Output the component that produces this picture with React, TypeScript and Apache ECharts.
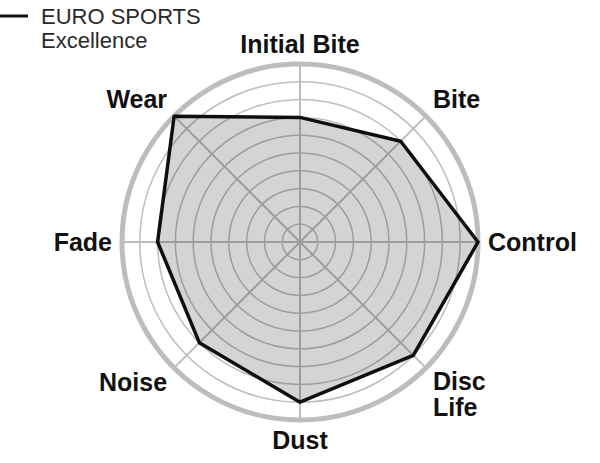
import React, { useEffect, useRef } from 'react';
import * as echarts from 'echarts';

// Indicators listed counter-clockwise from the top (ECharts radar order)
const indicatorNames = ['Initial Bite', 'Wear', 'Fade', 'Noise', 'Dust', 'Disc\nLife', 'Control', 'Bite'];
const seriesName = 'EURO SPORTS\nExcellence';
const seriesValues = [7, 10, 8, 8, 9, 9, 10, 8];
const maxValue = 10;
const ringCount = 10;

const nameFont = {
  color: '#111111',
  fontFamily: 'Liberation Sans',
  fontWeight: 'bold' as const,
  fontSize: 25,
  lineHeight: 25,
};

export default function App() {
  const ref = useRef<HTMLDivElement>(null);
  useEffect(() => {
    if (!ref.current) return;
    const chart = echarts.init(ref.current, undefined, { renderer: 'svg' });
    const indicator = indicatorNames.map((n) => ({ name: n, max: maxValue, min: 0 }));
    const center = [300, 242];
    const radius = 178;
    chart.setOption({
      animation: false,
      backgroundColor: '#ffffff',
      legend: {
        left: 0,
        top: -20,
        padding: 0,
        selectedMode: false,
        itemWidth: 28,
        itemHeight: 3,
        icon: 'rect',
        formatter: (name: string) => '\n' + name,
        data: [{ name: seriesName, itemStyle: { color: '#111111' } }],
        textStyle: {
          fontFamily: 'Liberation Sans',
          fontSize: 22,
          lineHeight: 24,
          color: '#2a2a2a',
          padding: [0, 0, 0, 8],
        },
      },
      radar: [
        {
          center,
          radius,
          shape: 'circle',
          splitNumber: ringCount,
          indicator,
          nameGap: 10,
          axisName: {
            ...nameFont,
            formatter: (name: string) => {
              if (name === 'Wear' || name === 'Bite') return `{up|${name}}`;
              if (name === 'Noise') return `{dn|${name}}`;
              if (name === 'Dust') return `{du|${name}}`;
              if (name === 'Initial Bite') return `{ib|${name}}`;
              if (name.startsWith('Disc')) {
                const parts = name.split('\n');
                return `{sp| }\n{dl|${parts[0]}}\n{dl|${parts[1]}}`;
              }
              return `{n|${name}}`;
            },
            rich: {
              n: { ...nameFont },
              ib: { ...nameFont, padding: [4, 0, 0, 0] },
              up: { ...nameFont, padding: [0, 0, 20, 0] },
              dn: { ...nameFont, padding: [14, 0, 0, 0] },
              du: { ...nameFont, padding: [0, 0, 6, 0] },
              dl: { ...nameFont, lineHeight: 26 },
              sp: { ...nameFont, fontSize: 10, lineHeight: 38, height: 38 },
            },
          },
          axisLine: { lineStyle: { color: '#bdbdbd', width: 2 } },
          splitLine: { lineStyle: { color: '#bdbdbd', width: 1.5 } },
          splitArea: { show: false },
        },
        {
          center,
          radius,
          shape: 'circle',
          splitNumber: 1,
          indicator,
          axisName: { show: false },
          axisLine: { show: false },
          splitLine: { lineStyle: { color: '#bdbdbd', width: 5 } },
          splitArea: { show: false },
        },
      ],
      series: [
        {
          type: 'radar',
          radarIndex: 0,
          name: seriesName,
          symbol: 'none',
          itemStyle: { color: '#111111' },
          lineStyle: { color: '#111111', width: 3.5 },
          areaStyle: { color: 'rgba(0,0,0,0.17)', opacity: 1 },
          data: [{ value: seriesValues, name: seriesName }],
        },
      ],
    });
    return () => chart.dispose();
  }, []);
  return (
    <div
      ref={ref}
      style={{ position: 'fixed', left: 0, top: 0, width: '600px', height: '463px' }}
    />
  );
}
